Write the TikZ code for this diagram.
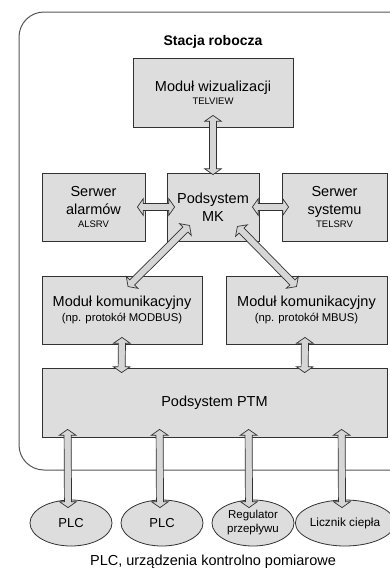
\documentclass[tikz,border=0pt]{standalone}
\usepackage{fontspec}
\setmainfont{Liberation Sans}
\usetikzlibrary{shapes.arrows,shapes.geometric,calc}
\definecolor{boxfill}{RGB}{221,221,221}
\definecolor{boxline}{RGB}{50,50,50}
\definecolor{arrfill}{RGB}{214,214,214}
\definecolor{frameline}{RGB}{85,85,85}
\newcommand\fsz[1]{\fontsize{#1}{#1}\selectfont}
\newcommand\dblarr[2]{\path let \p1=($(#2)-(#1)$), \n1={veclen(\x1,\y1)}, \n2={atan2(\y1,\x1)} in node[darr, minimum height=\n1, rotate=\n2] at ($(#1)!0.5!(#2)$) {};}
\tikzset{
  box/.style={draw=boxline, fill=boxfill, line width=0.8pt, align=center, inner sep=0pt},
  ell/.style={ellipse, draw=boxline, fill=boxfill, line width=0.8pt, align=center, inner sep=0pt, minimum width=82pt, minimum height=46pt},
  darr/.style={double arrow, draw=boxline, fill=arrfill, line width=0.7pt, inner xsep=0pt, inner ysep=3.2pt, double arrow head extend=4.8pt, double arrow tip angle=110, minimum width=1pt},
  big/.style={font=\fontsize{14.5}{17.5}\selectfont},
}
\begin{document}
\begin{tikzpicture}[x=1pt,y=-1pt]
\useasboundingbox (0,0) rectangle (390,571);
\clip (0,0) rectangle (390,571);
% frame
\draw[frameline, line width=1pt, rounded corners=25pt] (19,12) rectangle (415,470);
\node[font=\bfseries\fontsize{14}{16}\selectfont] (title) at (213,42) {Stacja robocza};
% boxes
\node[box, big, minimum width=160pt, minimum height=69pt] (vis) at (213,92.5) {Moduł wizualizacji\\[-5pt]{\fsz{9.5}TELVIEW}};
\node[box, big, minimum width=103pt, minimum height=68pt] (alarm) at (93.5,207) {Serwer\\alarmów\\[-4pt]{\fsz{9.5}ALSRV}};
\node[box, big, minimum width=92pt, minimum height=68pt] (mk) at (213,207) {Podsystem\\MK};
\node[box, big, minimum width=105pt, minimum height=68pt] (sys) at (334.5,207) {Serwer\\systemu\\[-4pt]{\fsz{9.5}TELSRV}};
\node[box, big, minimum width=160pt, minimum height=68pt] (kom1) at (122,310) {Moduł komunikacyjny\\[-3pt]{\fsz{11.3}(np. protokół MODBUS)}};
\node[box, big, minimum width=161pt, minimum height=68pt] (kom2) at (306.5,310) {Moduł komunikacyjny\\[-3pt]{\fsz{11.3}(np. protokół MBUS)}};
\node[box, big, minimum width=345pt, minimum height=69pt] (ptm) at (214.5,402.5) {Podsystem PTM};
% ellipses
\node[ell, font=\fsz{13}] (e1) at (71,523) {PLC};
\node[ell, font=\fsz{13}] (e2) at (162,523) {PLC};
\node[ell, font=\fontsize{11.5}{14}\selectfont] (e3) at (253,523) {Regulator\\przepływu};
\node[ell, font=\fsz{11.8}] (e4) at (345,523) {Licznik ciepła};
\node[font=\fsz{14.5}] (cap) at (213,562) {PLC, urządzenia kontrolno pomiarowe};
% arrow end points
\coordinate (a1) at ($(vis.south)+(0,-12)$);
\coordinate (a2) at ($(mk.north)+(0,2)$);
\coordinate (b1) at ($(alarm.east)+(-8,0)$);
\coordinate (b2) at ($(mk.west)+(8,0)$);
\coordinate (c1) at ($(mk.east)+(-7,0)$);
\coordinate (c2) at ($(sys.west)+(7,0)$);
\coordinate (d1) at ($(kom1.north)+(6,11)$);
\coordinate (d2) at ($(mk.south west)+(23,-16)$);
\coordinate (f1) at ($(mk.south east)+(-22,-15)$);
\coordinate (f2) at ($(kom2.north)+(-10,11)$);
\coordinate (g1) at ($(kom1.south)+(0,-7)$);
\coordinate (g2) at ($(ptm.north west)+(80,5)$);
\coordinate (h1) at ($(kom2.south)+(-1.5,-7)$);
\coordinate (h2) at ($(ptm.north west)+(263,5)$);
\coordinate (p1) at ($(ptm.south west)+(26,-8)$);
\coordinate (q1) at ($(e1.north)+(-3,8)$);
\coordinate (p2) at ($(ptm.south west)+(118,-8)$);
\coordinate (q2) at ($(e2.north)+(-2,8)$);
\coordinate (p3) at ($(ptm.south west)+(207,-8)$);
\coordinate (q3) at ($(e3.north)+(-4,8)$);
\coordinate (p4) at ($(ptm.south west)+(300,-8)$);
\coordinate (q4) at ($(e4.north)+(-3,8)$);
% arrows
\dblarr{a1}{a2}
\dblarr{b1}{b2}
\dblarr{c1}{c2}
\dblarr{d1}{d2}
\dblarr{f1}{f2}
\dblarr{g1}{g2}
\dblarr{h1}{h2}
\dblarr{p1}{q1}
\dblarr{p2}{q2}
\dblarr{p3}{q3}
\dblarr{p4}{q4}
\end{tikzpicture}
\end{document}
